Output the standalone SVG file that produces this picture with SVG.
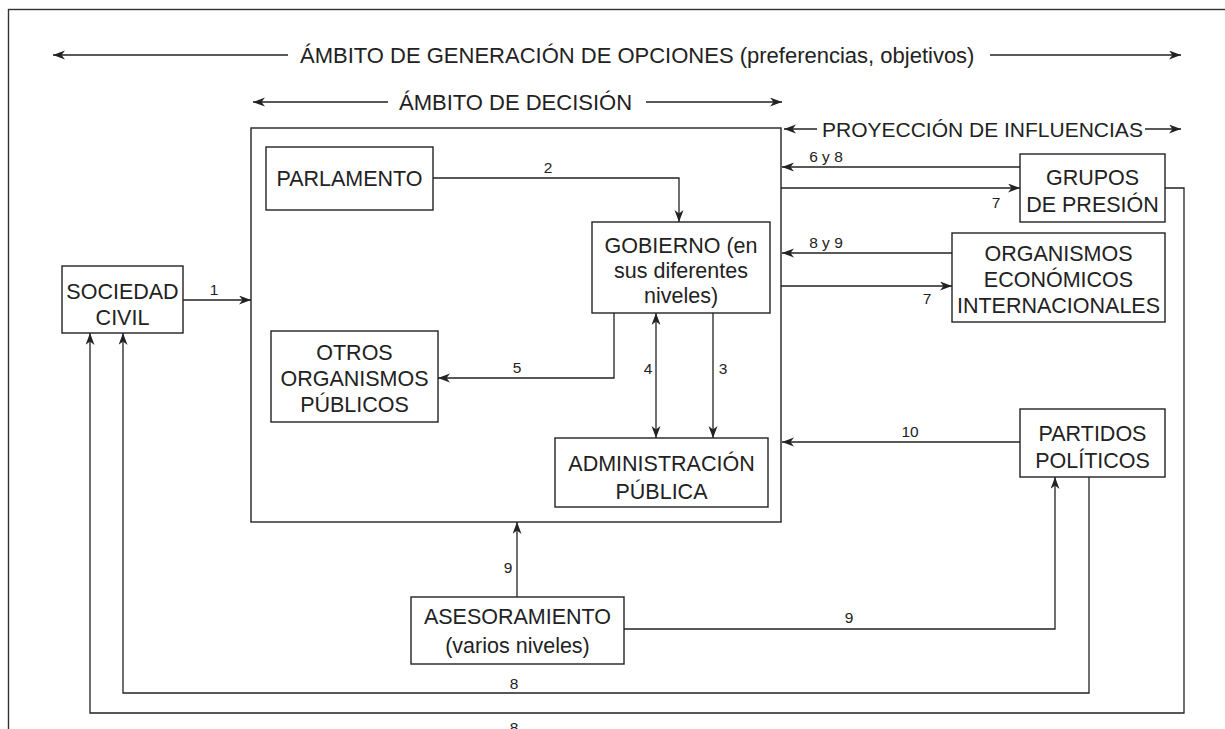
<svg xmlns="http://www.w3.org/2000/svg" width="1225" height="729" viewBox="0 0 1225 729">
<style>
.box{fill:#fff;stroke:#222;stroke-width:1.4}
.t{font-family:"Liberation Sans",Arial,sans-serif;font-size:21.5px;fill:#222;text-anchor:middle}
.h{font-family:"Liberation Sans",Arial,sans-serif;font-size:22px;fill:#222}
.l{font-family:"Liberation Sans",Arial,sans-serif;font-size:15.5px;fill:#222;text-anchor:middle}
.c{fill:none;stroke:#222;stroke-width:1.3}
.a{marker-end:url(#ah)}
</style>
<defs>
<marker id="ah" markerUnits="userSpaceOnUse" markerWidth="14" markerHeight="10" refX="12" refY="4.5" orient="auto">
<path d="M0,0 L12,4.5 L0,9 L3.5,4.5 z" fill="#222"/>
</marker>
<marker id="as" markerUnits="userSpaceOnUse" markerWidth="14" markerHeight="10" refX="0" refY="4.5" orient="auto">
<path d="M12,0 L0,4.5 L12,9 L8.5,4.5 z" fill="#222"/>
</marker>
</defs>
<rect x="0" y="0" width="1225" height="729" fill="#fff"/>
<rect x="8.5" y="9.5" width="1240" height="740" fill="none" stroke="#333" stroke-width="1.4"/>

<g id="headers">
<line class="c a" x1="288" y1="55" x2="53" y2="55"/>
<text class="h" x="300" y="63">ÁMBITO DE GENERACIÓN DE OPCIONES (preferencias, objetivos)</text>
<line class="c a" x1="990" y1="55" x2="1181" y2="55"/>
<line class="c a" x1="388" y1="102" x2="253" y2="102"/>
<text class="h" x="399" y="110">ÁMBITO DE DECISIÓN</text>
<line class="c a" x1="646" y1="102" x2="782" y2="102"/>
<line class="c a" x1="817" y1="129" x2="784" y2="129"/>
<text class="h" x="822" y="137" style="font-size:21px">PROYECCIÓN DE INFLUENCIAS</text>
<line class="c a" x1="1145" y1="129" x2="1181" y2="129"/>
</g>

<g id="ambito-decision"><rect class="box" x="251" y="128" width="530" height="394"/></g>

<g id="parlamento"><rect class="box" x="266" y="147" width="167" height="63"/>
<text class="t" x="349.5" y="186">PARLAMENTO</text></g>

<g id="gobierno"><rect class="box" x="592" y="222" width="178" height="91"/>
<text class="t" x="681" y="253">GOBIERNO (en</text>
<text class="t" x="681" y="278">sus diferentes</text>
<text class="t" x="681" y="303">niveles)</text></g>

<g id="sociedad"><rect class="box" x="62" y="266" width="121" height="67"/>
<text class="t" x="122.5" y="299">SOCIEDAD</text>
<text class="t" x="122.5" y="325">CIVIL</text></g>

<g id="otros"><rect class="box" x="271" y="331" width="167" height="91"/>
<text class="t" x="354.5" y="360">OTROS</text>
<text class="t" x="354.5" y="386">ORGANISMOS</text>
<text class="t" x="354.5" y="412">PÚBLICOS</text></g>

<g id="administracion"><rect class="box" x="555" y="438" width="213" height="69"/>
<text class="t" x="661.5" y="471">ADMINISTRACIÓN</text>
<text class="t" x="661.5" y="499">PÚBLICA</text></g>

<g id="grupos"><rect class="box" x="1020" y="154" width="145" height="68"/>
<text class="t" x="1092.5" y="185">GRUPOS</text>
<text class="t" x="1092.5" y="212">DE PRESIÓN</text></g>

<g id="organismos"><rect class="box" x="952" y="233" width="213" height="89"/>
<text class="t" x="1058.5" y="261">ORGANISMOS</text>
<text class="t" x="1058.5" y="287">ECONÓMICOS</text>
<text class="t" x="1058.5" y="313">INTERNACIONALES</text></g>

<g id="partidos"><rect class="box" x="1020" y="409" width="145" height="68"/>
<text class="t" x="1092.5" y="441">PARTIDOS</text>
<text class="t" x="1092.5" y="468">POLÍTICOS</text></g>

<g id="asesoramiento"><rect class="box" x="411" y="597" width="213" height="67"/>
<text class="t" x="517.5" y="624">ASESORAMIENTO</text>
<text class="t" x="517.5" y="653">(varios niveles)</text></g>

<g id="connectors">
<line class="c a" x1="183" y1="300" x2="251" y2="300"/>
<text class="l" x="214" y="295">1</text>
<polyline class="c a" points="433,178 679,178 679,222"/>
<text class="l" x="548" y="173">2</text>
<line class="c a" x1="713" y1="313" x2="713" y2="438"/>
<text class="l" x="723" y="374">3</text>
<line class="c a" x1="656" y1="313" x2="656" y2="438" marker-start="url(#as)"/>
<text class="l" x="648" y="374">4</text>
<polyline class="c a" points="614,313 614,378 438,378"/>
<text class="l" x="517" y="373">5</text>
<line class="c a" x1="1020" y1="167" x2="782" y2="167"/>
<text class="l" x="826" y="162">6 y 8</text>
<line class="c a" x1="781" y1="188" x2="1020" y2="188"/>
<text class="l" x="996" y="208">7</text>
<line class="c a" x1="952" y1="253" x2="782" y2="253"/>
<text class="l" x="826" y="248">8 y 9</text>
<line class="c a" x1="781" y1="286" x2="952" y2="286"/>
<text class="l" x="927" y="304">7</text>
<line class="c a" x1="1020" y1="442" x2="782" y2="442"/>
<text class="l" x="910" y="437">10</text>
<line class="c a" x1="517" y1="597" x2="517" y2="522"/>
<text class="l" x="508" y="573">9</text>
<polyline class="c a" points="624,629 1055,629 1055,477"/>
<text class="l" x="849" y="623">9</text>
<polyline class="c a" points="1089,477 1089,693 123,693 123,333"/>
<text class="l" x="514" y="689">8</text>
<polyline class="c a" points="1165,188 1184,188 1184,713 90,713 90,333"/>
<text class="l" x="514" y="733">8</text>
</g>
</svg>
